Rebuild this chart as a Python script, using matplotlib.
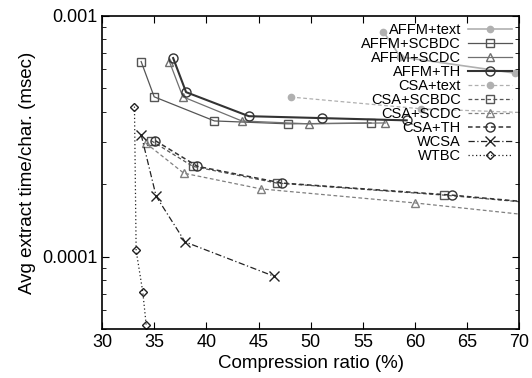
import matplotlib
matplotlib.use("Agg")
from matplotlib import pyplot as plt
from matplotlib.ticker import FixedLocator, NullFormatter, LogLocator

plt.rcParams['font.family'] = ['Liberation Sans', 'DejaVu Sans']

# series data (compression ratio %, avg extract time msec)
affm_text_x = [56.97, 58.6, 69.6]
affm_text_y = [8.6e-4, 6.76e-4, 5.78e-4]
affm_scbdc_x = [33.74, 34.99, 40.77, 47.8, 55.79]
affm_scbdc_y = [6.46e-4, 4.61e-4, 3.66e-4, 3.56e-4, 3.59e-4]
affm_scdc_x = [36.45, 37.74, 43.39, 49.82, 57.16]
affm_scdc_y = [6.46e-4, 4.61e-4, 3.66e-4, 3.56e-4, 3.59e-4]
affm_th_x = [36.81, 38.05, 44.07, 51.12, 59.21]
affm_th_y = [6.68e-4, 4.82e-4, 3.83e-4, 3.76e-4, 3.68e-4]
csa_text_x = [48.09, 60.6, 75.0]
csa_text_y = [4.6e-4, 4.11e-4, 3.9e-4]
csa_scbdc_x = [34.7, 38.7, 46.75, 62.79, 80.0]
csa_scbdc_y = [3.03e-4, 2.37e-4, 2.02e-4, 1.80e-4, 1.55e-4]
csa_scdc_x = [34.19, 37.83, 45.24, 60.01, 80.0]
csa_scdc_y = [2.96e-4, 2.22e-4, 1.91e-4, 1.67e-4, 1.35e-4]
csa_th_x = [35.11, 39.14, 47.26, 63.53, 80.0]
csa_th_y = [3.03e-4, 2.37e-4, 2.02e-4, 1.80e-4, 1.55e-4]
wcsa_x = [33.74, 35.18, 37.96, 46.49]
wcsa_y = [3.21e-4, 1.78e-4, 1.15e-4, 8.28e-5]
wtbc_x = [33.1, 33.26, 33.9, 34.22]
wtbc_y = [4.2e-4, 1.06e-4, 7.11e-5, 5.22e-5]

fig = plt.figure(figsize=(5.32, 3.78), dpi=100)
ax = fig.add_axes([0.192, 0.1296, 0.784, 0.8284])

ax.plot(affm_text_x, affm_text_y, color='#b0b0b0', lw=1.2, marker='o', ms=4.5, mfc='#b0b0b0', mec='#b0b0b0', label='AFFM+text')
ax.plot(affm_scbdc_x, affm_scbdc_y, color='#555555', lw=0.9, marker='s', ms=6, mfc='none', label='AFFM+SCBDC')
ax.plot(affm_scdc_x, affm_scdc_y, color='#707070', lw=0.9, marker='^', ms=6, mfc='none', label='AFFM+SCDC')
ax.plot(affm_th_x, affm_th_y, color='#333333', lw=1.5, marker='o', ms=6.5, mfc='none', label='AFFM+TH')
ax.plot(csa_text_x, csa_text_y, color='#b0b0b0', lw=0.9, ls=(0, (3, 2)), marker='o', ms=4.5, mfc='#b0b0b0', mec='#b0b0b0', label='CSA+text')
ax.plot(csa_scbdc_x, csa_scbdc_y, color='#555555', lw=0.9, ls=(0, (3, 2)), marker='s', ms=6, mfc='none', label='CSA+SCBDC')
ax.plot(csa_scdc_x, csa_scdc_y, color='#808080', lw=0.9, ls=(0, (3, 2)), marker='^', ms=6, mfc='none', label='CSA+SCDC')
ax.plot(csa_th_x, csa_th_y, color='#333333', lw=1.1, ls=(0, (3, 2)), marker='o', ms=6.5, mfc='none', label='CSA+TH')
ax.plot(wcsa_x, wcsa_y, color='#222222', lw=0.9, ls=(0, (5, 2, 1, 2)), marker='x', ms=6.5, label='WCSA')
ax.plot(wtbc_x, wtbc_y, color='#222222', lw=0.9, ls=(0, (1, 2)), marker='D', ms=4.5, mfc='none', label='WTBC')

ax.set_xlim(30, 70)
ax.set_yscale('log')
ax.set_ylim(5e-5, 1e-3)
ax.set_xticks(range(30, 71, 5))
ax.yaxis.set_major_locator(FixedLocator([1e-4, 1e-3]))
ax.set_yticklabels(['0.0001', '0.001'])
ax.yaxis.set_minor_locator(LogLocator(base=10, subs=range(2, 10)))
ax.yaxis.set_minor_formatter(NullFormatter())
ax.tick_params(which='both', direction='in', top=True, right=True, labelsize=13)
ax.tick_params(which='major', length=5)
ax.tick_params(which='minor', length=3)
for s in ax.spines.values():
    s.set_linewidth(1.2)

ax.set_xlabel('Compression ratio (%)', fontsize=13.5, labelpad=3)
ax.set_ylabel('Avg extract time/char. (msec)', fontsize=13.5, labelpad=4)

ax.legend(loc='upper right', frameon=False, markerfirst=False, fontsize=10.5,
          labelspacing=0.0, handlelength=3.0, handletextpad=0.5,
          borderaxespad=0.2, borderpad=0.3)

fig.savefig('out.png', dpi=100)
